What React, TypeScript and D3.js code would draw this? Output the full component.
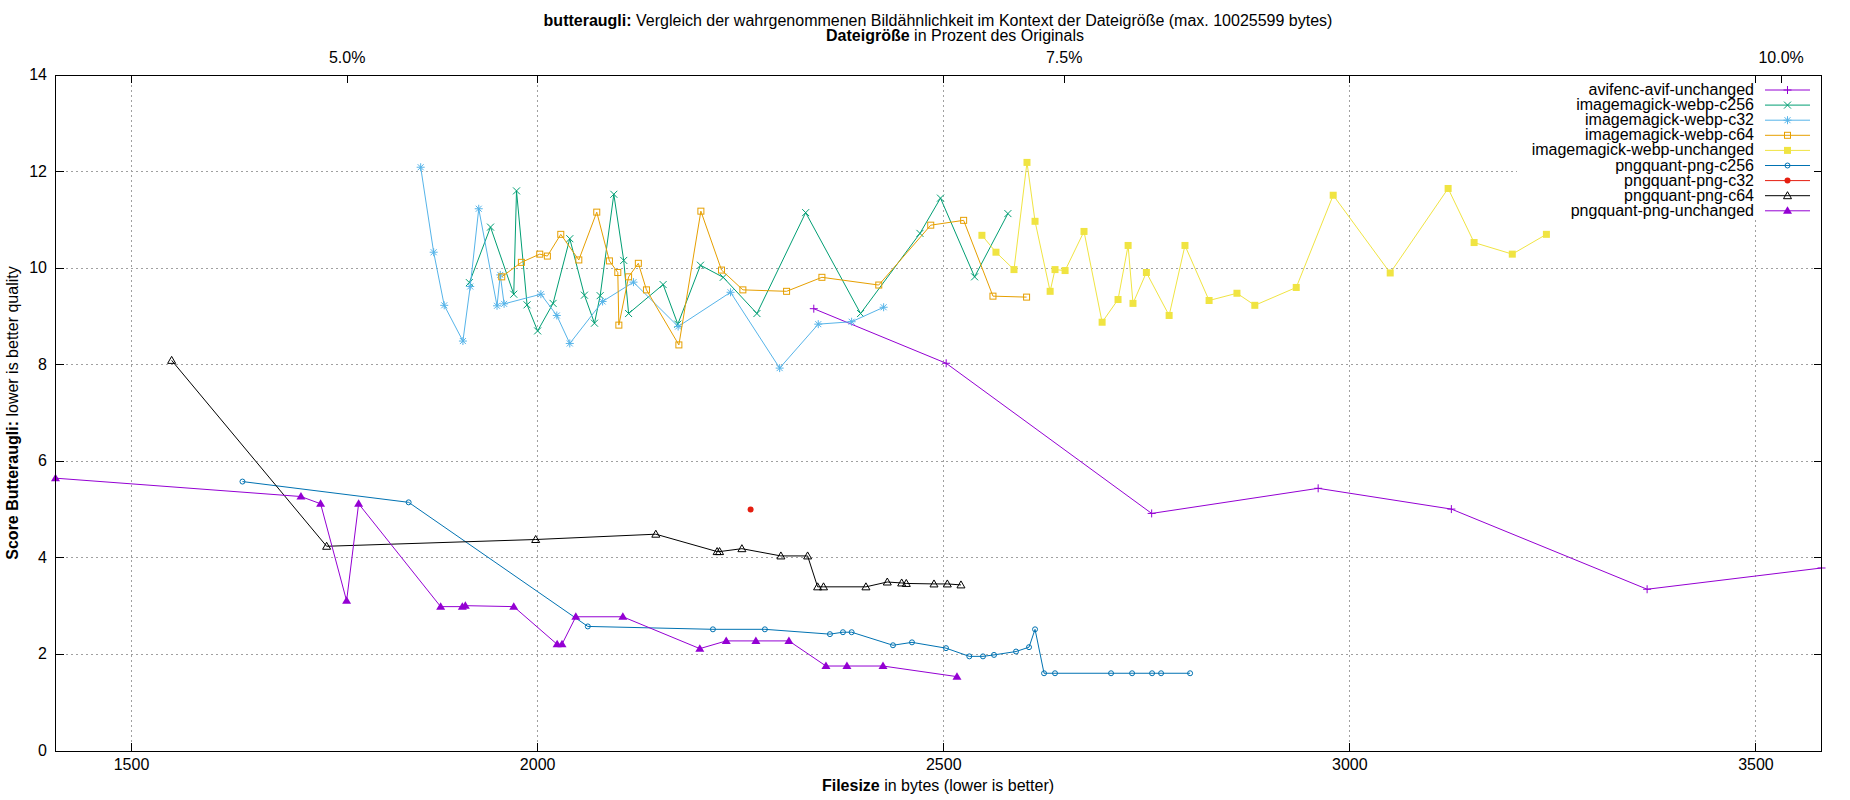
import React from 'react';
import * as d3 from 'd3';

type Pt = [number, number];

// filesize in bytes, butteraugli score
const avifUnchanged: Pt[] = [
  [2340, 9.16], [2503, 8.03], [2756, 4.92], [2961, 5.44], [3125, 5.01], [3366, 3.35], [3580.7, 3.79],
];

const webpC256: Pt[] = [
  [1916, 9.7], [1942, 10.85], [1970.6, 9.46], [1974, 11.6], [1987, 9.24], [2000, 8.7], [2019, 9.27],
  [2039.6, 10.61], [2057.6, 9.44], [2070, 8.86], [2077, 9.43], [2093.8, 11.53], [2106, 10.16],
  [2112, 9.06], [2154.5, 9.66], [2172.6, 8.84], [2200.5, 10.06], [2228.5, 9.81], [2270, 9.06],
  [2330, 11.15], [2397.6, 9.06], [2470.7, 10.72], [2496, 11.45], [2538, 9.82], [2579, 11.13],
];

const webpC32: Pt[] = [
  [1856, 12.09], [1872, 10.33], [1885, 9.23], [1908, 8.49], [1917, 9.62], [1927.5, 11.23],
  [1950, 9.22], [1954, 9.86], [1958.7, 9.26], [2004, 9.46], [2023.6, 9.02], [2039.6, 8.44],
  [2080, 9.31], [2118, 9.71], [2173, 8.79], [2237.5, 9.5], [2298, 7.93], [2345.5, 8.84],
  [2386.6, 8.89], [2426, 9.19],
];

const webpC64: Pt[] = [
  [1955.8, 9.82], [1980, 10.12], [2002.6, 10.29], [2012, 10.25], [2028.5, 10.7], [2050.7, 10.17],
  [2072.8, 11.16], [2088.4, 10.15], [2098.7, 9.91], [2100, 8.82], [2112, 9.82], [2124, 10.1],
  [2134, 9.55], [2173.9, 8.41], [2201, 11.18], [2226.4, 9.96], [2252.7, 9.55], [2306.5, 9.52],
  [2350, 9.81], [2420, 9.65], [2484, 10.89], [2524.5, 10.99], [2560.6, 9.42], [2602, 9.4],
];

const webpUnchanged: Pt[] = [
  [2547, 10.68], [2564.3, 10.33], [2586.5, 9.97], [2602.5, 12.19], [2612.4, 10.97], [2631, 9.52],
  [2637, 9.97], [2649.4, 9.95], [2672.7, 10.76], [2695, 8.88], [2714.6, 9.35], [2727, 10.47],
  [2733, 9.27], [2749.5, 9.91], [2777.5, 9.02], [2797, 10.47], [2826.7, 9.33], [2861, 9.48],
  [2883, 9.23], [2934, 9.6], [2979.5, 11.51], [3049.7, 9.9], [3121, 11.65], [3153, 10.53],
  [3200, 10.29], [3242, 10.7],
];

const pngC256: Pt[] = [
  [1636.6, 5.58], [1841.2, 5.15], [2061.8, 2.58], [2215.8, 2.52], [2279.8, 2.52], [2359.9, 2.42],
  [2375.9, 2.46], [2386.6, 2.46], [2437.5, 2.19], [2460.9, 2.25], [2502.8, 2.13], [2531.5, 1.96],
  [2548.3, 1.96], [2561.9, 1.99], [2589, 2.06], [2605, 2.15], [2612.4, 2.52], [2623.5, 1.61],
  [2637, 1.61], [2706, 1.61], [2731.9, 1.61], [2756.5, 1.61], [2767.6, 1.61], [2803.3, 1.61],
];

const pngC32: Pt[] = [[2262.2, 5.0]];

const pngC64: Pt[] = [
  [1549.4, 8.09], [1740.2, 4.24], [1997.6, 4.38], [2145.5, 4.49], [2221, 4.13], [2224, 4.13],
  [2251.5, 4.19], [2299.5, 4.04], [2332.4, 4.04], [2344.7, 3.4], [2352, 3.4], [2404.2, 3.4],
  [2430.5, 3.5], [2448.2, 3.48], [2453.9, 3.47], [2488, 3.46], [2504.4, 3.46], [2521.2, 3.44],
];

const pngUnchanged: Pt[] = [
  [1406.4, 5.65], [1708.6, 5.27], [1732.8, 5.12], [1764.8, 3.11], [1779.6, 5.12], [1880.6, 2.99],
  [1907.3, 2.99], [1911, 3.01], [1970.6, 2.99], [2024, 2.21], [2030, 2.21], [2047, 2.78],
  [2104.9, 2.78], [2199.7, 2.12], [2232.2, 2.28], [2268.7, 2.28], [2309.4, 2.28], [2355, 1.76],
  [2380.8, 1.76], [2425.2, 1.76], [2516.3, 1.54],
];

const xTicks = [1500, 2000, 2500, 3000, 3500];
const yTicks = [0, 2, 4, 6, 8, 10, 12, 14];
const x2Ticks = [5, 7.5, 10];
const ORIGINAL_BYTES = 35310;

type Marker = 'plus' | 'cross' | 'star' | 'square' | 'squareFilled' | 'circle' | 'circleFilled' | 'triangle' | 'triangleFilled';

const series: {name: string; color: string; marker: Marker; data: Pt[]}[] = [
  {name: 'avifenc-avif-unchanged', color: '#9400d3', marker: 'plus', data: avifUnchanged},
  {name: 'imagemagick-webp-c256', color: '#009e73', marker: 'cross', data: webpC256},
  {name: 'imagemagick-webp-c32', color: '#56b4e9', marker: 'star', data: webpC32},
  {name: 'imagemagick-webp-c64', color: '#e69f00', marker: 'square', data: webpC64},
  {name: 'imagemagick-webp-unchanged', color: '#f0e442', marker: 'squareFilled', data: webpUnchanged},
  {name: 'pngquant-png-c256', color: '#0072b2', marker: 'circle', data: pngC256},
  {name: 'pngquant-png-c32', color: '#e51e10', marker: 'circleFilled', data: pngC32},
  {name: 'pngquant-png-c64', color: '#000000', marker: 'triangle', data: pngC64},
  {name: 'pngquant-png-unchanged', color: '#9400d3', marker: 'triangleFilled', data: pngUnchanged},
];

const W = 1850;
const H = 800;
const plotLeft = 55.5;
const plotRight = 1821.5;
const plotTop = 75;
const plotBottom = 751;
const font = '"Liberation Sans", Arial, sans-serif';
const fontSize = 16;

const renderMarker = (m: Marker, cx: number, cy: number, color: string, key: string) => {
  const sw = 1;
  switch (m) {
    case 'plus':
      return (
        <path key={key} d={`M${cx - 4},${cy}H${cx + 4}M${cx},${cy - 4}V${cy + 4}`} stroke={color} strokeWidth={sw} fill="none" />
      );
    case 'cross':
      return (
        <path key={key} d={`M${cx - 3.5},${cy - 3.5}L${cx + 3.5},${cy + 3.5}M${cx - 3.5},${cy + 3.5}L${cx + 3.5},${cy - 3.5}`} stroke={color} strokeWidth={sw} fill="none" />
      );
    case 'star':
      return (
        <path key={key} d={`M${cx - 4},${cy}H${cx + 4}M${cx},${cy - 4}V${cy + 4}M${cx - 3},${cy - 3}L${cx + 3},${cy + 3}M${cx - 3},${cy + 3}L${cx + 3},${cy - 3}`} stroke={color} strokeWidth={sw} fill="none" />
      );
    case 'square':
      return <rect key={key} x={cx - 3} y={cy - 3} width={6} height={6} stroke={color} strokeWidth={sw} fill="none" />;
    case 'squareFilled':
      return <rect key={key} x={cx - 3.5} y={cy - 3.5} width={7} height={7} fill={color} />;
    case 'circle':
      return <circle key={key} cx={cx} cy={cy} r={2.5} stroke={color} strokeWidth={sw} fill="none" />;
    case 'circleFilled':
      return <circle key={key} cx={cx} cy={cy} r={3} fill={color} />;
    case 'triangle':
      return <path key={key} d={`M${cx},${cy - 4}L${cx + 4},${cy + 3}L${cx - 4},${cy + 3}Z`} stroke={color} strokeWidth={sw} fill="none" />;
    case 'triangleFilled':
      return <path key={key} d={`M${cx},${cy - 4.5}L${cx + 4.5},${cy + 3}L${cx - 4.5},${cy + 3}Z`} fill={color} />;
  }
};

export default function App() {
  const all = series.flatMap(s => s.data);
  const [xMin, xMax] = d3.extent(all, d => d[0]) as [number, number];

  const x = d3.scaleLinear().domain([xMin, xMax]).range([plotLeft, plotRight]);
  const y = d3.scaleLinear().domain([0, 14]).range([plotBottom, plotTop]);
  const x2 = d3
    .scaleLinear()
    .domain([(xMin / ORIGINAL_BYTES) * 100, (xMax / ORIGINAL_BYTES) * 100])
    .range([plotLeft, plotRight]);

  const line = d3
    .line<Pt>()
    .x(d => x(d[0]))
    .y(d => y(d[1]));

  const legendTop = 90;
  const legendStep = 15.1;
  const tick = 8;

  return (
    <svg
      width={W}
      height={H}
      style={{position: 'absolute', left: 0, top: 0, background: '#fff'}}
      fontFamily={font}
      fontSize={fontSize}>
      <rect width={W} height={H} fill="#fff" />

      {/* grid */}
      <g stroke="#a0a0a0" strokeWidth={1} strokeDasharray="2,3" shapeRendering="crispEdges">
        {xTicks.map(t => (
          <line key={`gx${t}`} x1={x(t)} x2={x(t)} y1={plotTop} y2={plotBottom} />
        ))}
        {yTicks.filter(t => t > 0 && t < 14).map(t => (
          <line key={`gy${t}`} x1={plotLeft} x2={plotRight} y1={y(t)} y2={y(t)} />
        ))}
      </g>

      {/* series */}
      {series.map(s => (
        <g key={s.name}>
          {s.data.length > 1 && <path d={line(s.data) || ''} fill="none" stroke={s.color} strokeWidth={1} />}
          {s.data.map((d, i) => renderMarker(s.marker, x(d[0]), y(d[1]), s.color, `${s.name}-${i}`))}
        </g>
      ))}

      {/* legend */}
      <rect x={1517} y={plotTop} width={plotRight - 1517} height={144} fill="#fff" />
      {series.map((s, i) => {
        const ly = legendTop + i * legendStep;
        return (
          <g key={`leg${s.name}`}>
            <text x={1754} y={ly + 5} textAnchor="end">
              {s.name}
            </text>
            <line x1={1765} x2={1810} y1={ly} y2={ly} stroke={s.color} strokeWidth={1} />
            {renderMarker(s.marker, 1787.5, ly, s.color, `lm${i}`)}
          </g>
        );
      })}

      {/* border and ticks */}
      <g stroke="#000" strokeWidth={1} shapeRendering="crispEdges">
        <rect x={plotLeft} y={plotTop} width={plotRight - plotLeft} height={plotBottom - plotTop} fill="none" />
        {xTicks.map(t => (
          <g key={`tx${t}`}>
            <line x1={x(t)} x2={x(t)} y1={plotBottom} y2={plotBottom - tick} />
            <line x1={x(t)} x2={x(t)} y1={plotTop} y2={plotTop + tick} />
          </g>
        ))}
        {yTicks.map(t => (
          <g key={`ty${t}`}>
            <line x1={plotLeft} x2={plotLeft + tick} y1={y(t)} y2={y(t)} />
            <line x1={plotRight} x2={plotRight - tick} y1={y(t)} y2={y(t)} />
          </g>
        ))}
        {x2Ticks.map(t => (
          <line key={`tx2${t}`} x1={x2(t)} x2={x2(t)} y1={plotTop} y2={plotTop + tick} />
        ))}
      </g>

      {/* tick labels */}
      {xTicks.map(t => (
        <text key={`lx${t}`} x={x(t)} y={770} textAnchor="middle">
          {t}
        </text>
      ))}
      {yTicks.map(t => (
        <text key={`ly${t}`} x={47} y={y(t) + 5} textAnchor="end">
          {t}
        </text>
      ))}
      {x2Ticks.map(t => (
        <text key={`lx2${t}`} x={x2(t)} y={63} textAnchor="middle">
          {`${t.toFixed(1)}%`}
        </text>
      ))}

      {/* titles */}
      <text x={938} y={26} textAnchor="middle">
        <tspan fontWeight="bold">butteraugli:</tspan>
        {' Vergleich der wahrgenommenen Bildähnlichkeit im Kontext der Dateigröße (max. 10025599 bytes)'}
      </text>
      <text x={955} y={41} textAnchor="middle">
        <tspan fontWeight="bold">Dateigröße</tspan>
        {' in Prozent des Originals'}
      </text>
      <text x={938} y={791} textAnchor="middle">
        <tspan fontWeight="bold">Filesize</tspan>
        {' in bytes (lower is better)'}
      </text>
      <text transform={`translate(18,${(plotTop + plotBottom) / 2}) rotate(-90)`} textAnchor="middle">
        <tspan fontWeight="bold">Score Butteraugli:</tspan>
        {' lower is better quality'}
      </text>
    </svg>
  );
}
